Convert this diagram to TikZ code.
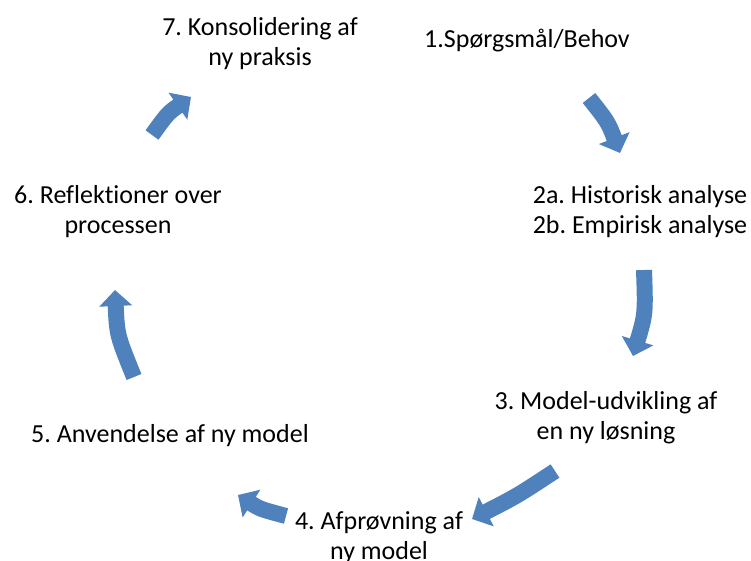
\documentclass[tikz,border=0pt]{standalone}
\usepackage{fontspec}
\setmainfont{Carlito}[Ligatures=NoCommon]
\usetikzlibrary{arrows.meta}
\definecolor{cycleblue}{HTML}{4F81BD}
\frenchspacing
\tikzset{
  lbl/.style={font=\fontsize{26}{29.5}\selectfont, align=center, inner sep=0pt, anchor=base},
  cyc/.style={draw=cycleblue, fill=cycleblue, line width=16pt,
    -{Triangle[width=32pt,length=16pt]}}
}
\begin{document}
\begin{tikzpicture}[x=1pt,y=-1pt]
\useasboundingbox (0,0) rectangle (751,560);

% stage labels (base anchor sits on the last line)
\node[lbl] (s7) at (260,65) {7. Konsolidering af\\ny praksis};
\node[lbl] (s1) at (527,47) {1.Spørgsmål/Behov};
\node[lbl] (s2) at (640,233) {2a. Historisk analyse\\2b. Empirisk analyse};
\node[lbl] (s3) at (606,439) {3. Model-udvikling af\\en ny løsning};
\node[lbl] (s4) at (379,559) {4. Afprøvning af\\ny model};
\node[lbl] (s5) at (170,442) {5. Anvendelse af ny model};
\node[lbl] (s6) at (118,233) {6. Reflektioner over\\processen};

% arrow end points
\coordinate (a1s) at (589,98);  \coordinate (a1e) at (620,153);
\coordinate (a2s) at (644,270); \coordinate (a2e) at (633,356);
\coordinate (a3s) at (555,471); \coordinate (a3e) at (472,519);
\coordinate (a4s) at (286,516); \coordinate (a4e) at (238,495);
\coordinate (a5s) at (134,377); \coordinate (a5e) at (115,290);
\coordinate (a6s) at (152,135); \coordinate (a6e) at (191,97);

% curved cycle arrows
\draw[cyc] (a1s) .. controls (608,122) .. (a1e);
\draw[cyc] (a2s) .. controls (645.5,314) .. (a2e);
\draw[cyc] (a3s) .. controls (517,496) .. (a3e);
\draw[cyc] (a4s) .. controls (260,509) .. (a4e);
\draw[cyc] (a5s) .. controls (117,335) .. (a5e);
\draw[cyc] (a6s) .. controls (168,113) .. (a6e);
\end{tikzpicture}
\end{document}
